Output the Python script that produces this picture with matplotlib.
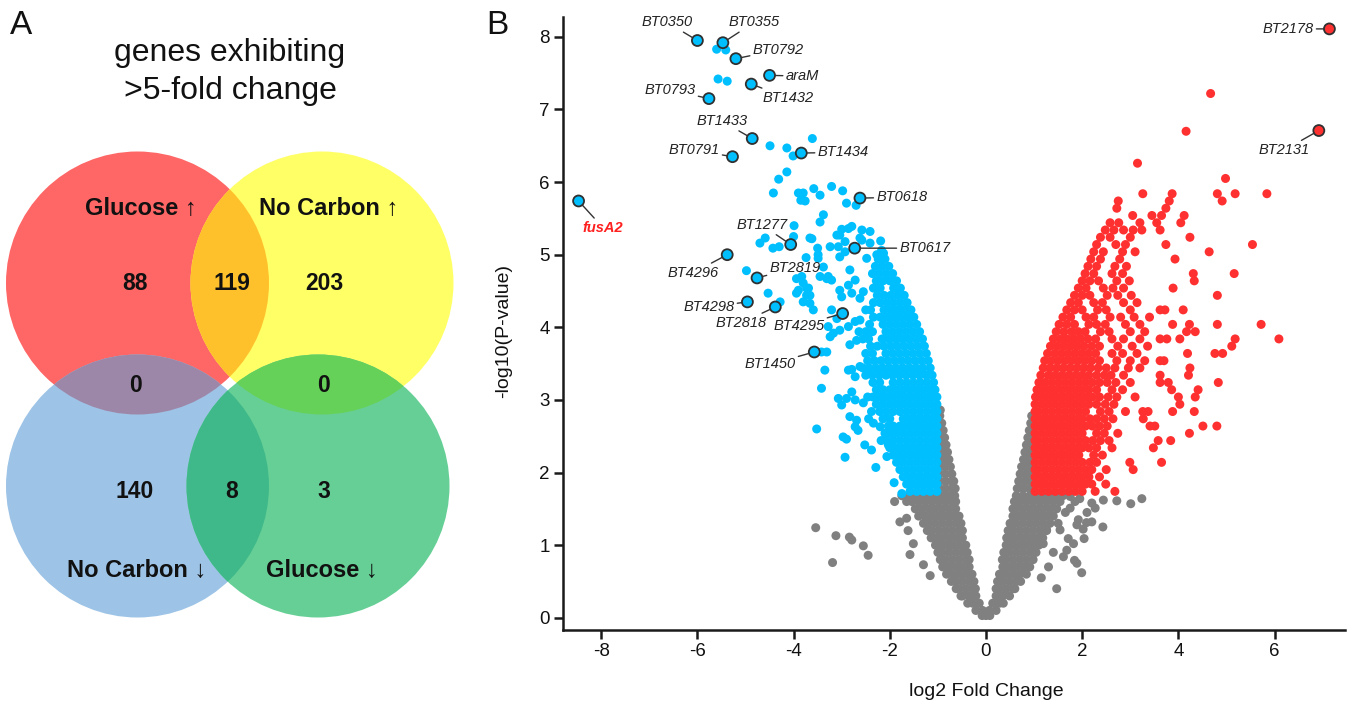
import matplotlib
matplotlib.use('Agg')
import matplotlib.pyplot as plt
from matplotlib.patches import Circle

plt.rcParams['font.family'] = ['Liberation Sans', 'DejaVu Sans']
plt.rcParams['axes.unicode_minus'] = False

# ---------------- Panel A data (Venn) ----------------
venn_title = ['genes exhibiting', '>5-fold change']
venn_labels = ['Glucose \u2191', 'No Carbon \u2191', 'No Carbon \u2193', 'Glucose \u2193']
venn_counts = [88, 119, 203, 0, 0, 140, 8, 3]

# ---------------- Panel B data (volcano) ----------------
x_ticks = [-8, -6, -4, -2, 0, 2, 4, 6]
y_ticks = [0, 1, 2, 3, 4, 5, 6, 7, 8]

# gray (not significant) points, read row by row: (y, [x values])
gray_rows = [
    (0.03, [-0.08, 0.0, 0.08]),
    (0.10, [-0.21, -0.07, 0.07, 0.21]),
    (0.20, [-0.38, -0.28, -0.14, 0.14, 0.28, 0.36]),
    (0.30, [-0.52, -0.49, -0.35, -0.21, 0.21, 0.35, 0.49]),
    (0.40, [-0.62, -0.56, -0.42, -0.28, -0.22, 0.21, 0.28, 0.42, 0.56, 0.6]),
    (0.50, [-0.72, -0.63, -0.49, -0.35, -0.25, 0.24, 0.35, 0.49, 0.63, 0.72]),
    (0.60, [-0.82, -0.7, -0.56, -0.42, -0.29, 0.28, 0.42, 0.56, 0.7, 0.84]),
    (0.70, [-0.9, -0.77, -0.63, -0.49, -0.35, 0.35, 0.49, 0.63, 0.77, 0.91]),
    (0.80, [-0.95, -0.84, -0.7, -0.56, -0.42, -0.35, 0.34, 0.42, 0.56, 0.7, 0.84, 0.98]),
    (0.90, [-1.0, -0.91, -0.77, -0.63, -0.49, -0.39, 0.37, 0.49, 0.63, 0.77, 0.91, 1.04]),
    (1.00, [-1.05, -0.98, -0.84, -0.7, -0.56, -0.42, 0.42, 0.56, 0.7, 0.84, 0.98, 1.1]),
    (1.10, [-1.14, -1.05, -0.91, -0.77, -0.63, -0.49, 0.43, 0.49, 0.63, 0.77, 0.91, 1.05, 1.18]),
    (1.20, [-1.22, -1.12, -0.98, -0.84, -0.7, -0.56, -0.49, 0.46, 0.56, 0.7, 0.84, 0.98, 1.12, 1.26]),
    (1.30, [-1.3, -1.19, -1.05, -0.91, -0.77, -0.63, -0.52, 0.5, 0.63, 0.77, 0.91, 1.05, 1.19, 1.33]),
    (1.40, [-1.4, -1.26, -1.12, -0.98, -0.84, -0.7, -0.56, 0.56, 0.7, 0.84, 0.98, 1.12, 1.26, 1.4]),
    (1.50, [-1.47, -1.33, -1.19, -1.05, -0.91, -0.77, -0.63, 0.56, 0.63, 0.77, 0.91, 1.05, 1.19, 1.33, 1.47]),
    (1.60, [-1.65, -1.54, -1.4, -1.26, -1.12, -0.98, -0.84, -0.7, -0.63, 0.59, 0.7, 0.84, 0.98, 1.12, 1.26, 1.4, 1.54]),
    (1.68, [-1.75, -1.61, -1.47, -1.33, -1.19, -1.05, -0.91, -0.77, -0.65, 0.63, 0.77, 0.91, 1.05, 1.19, 1.33, 1.47, 1.6]),
    (1.78, [-0.97, -0.84, -0.7, -0.64, 0.65, 0.77, 0.9, 0.97]),
    (1.88, [-0.96, -0.84, -0.72, -0.67, 0.68, 0.8, 0.92, 0.97]),
    (1.98, [-0.96, -0.84, -0.71, 0.71, 0.83, 0.95]),
    (2.08, [-0.96, -0.85, -0.74, 0.74, 0.86, 0.96]),
    (2.18, [-0.96, -0.86, -0.77, 0.78, 0.88, 0.96]),
    (2.28, [-0.97, -0.88, -0.8, 0.81, 0.9, 0.97]),
    (2.38, [-0.97, -0.89, -0.83, 0.84, 0.92, 0.97]),
    (2.48, [-0.97, -0.86, 0.87, 0.95]),
    (2.58, [-0.97, -0.89, 0.9, 0.96]),
    (2.68, [-0.97, -0.92, 0.93, 0.97]),
    (2.78, [-0.96, 0.95]),
    (2.86, [-0.95]),
]
gray_extra = [
    (-3.54, 1.24), (-3.12, 1.13), (-2.84, 1.11), (-2.79, 1.07), (-2.55, 0.99), (-2.45, 0.86),
    (-3.19, 0.76), (-1.79, 1.32), (-1.65, 1.37), (-1.51, 1.02), (-1.58, 0.87), (-1.30, 0.73),
    (-1.16, 0.58), (-1.9, 1.6), (-1.62, 1.2),
    (3.24, 1.64), (3.01, 1.57), (2.72, 1.61), (2.44, 1.62), (2.43, 1.25), (2.20, 1.58),
    (2.27, 1.51), (2.09, 1.31), (2.20, 1.32), (2.02, 1.22), (2.04, 1.09), (1.92, 1.35),
    (1.89, 1.28), (1.82, 1.02), (1.71, 1.09), (1.84, 0.79), (1.89, 0.75), (1.99, 0.62),
    (1.47, 0.40), (1.61, 0.84), (1.68, 0.93), (1.54, 1.21), (1.50, 1.30), (1.33, 1.39),
    (1.26, 1.21), (1.19, 1.02), (1.75, 1.51), (1.85, 1.60), (1.95, 1.64), (1.75, 1.67),
    (2.10, 1.45), (1.65, 1.45), (1.40, 0.90), (1.30, 0.70), (1.15, 0.55),
]

# blue (down-regulated, significant) points
blue_rows = [
    (1.74, [-1.02, -1.16, -1.3, -1.44, -1.58]),
    (1.84, [-1.02, -1.09, -1.23, -1.37, -1.51, -1.65]),
    (1.94, [-1.02, -1.16, -1.3, -1.44, -1.58, -1.72]),
    (2.04, [-1.02, -1.09, -1.23, -1.37, -1.51, -1.65, -1.79]),
    (2.14, [-1.02, -1.16, -1.3, -1.44, -1.58, -1.72, -1.86]),
    (2.24, [-1.02, -1.09, -1.23, -1.37, -1.51, -1.65, -1.79, -1.93]),
    (2.34, [-1.02, -1.16, -1.3, -1.44, -1.58, -1.72, -1.86, -2.0]),
    (2.44, [-1.02, -1.09, -1.23, -1.37, -1.51, -1.65, -1.79, -1.93, -2.07, -2.18]),
    (2.54, [-1.02, -1.16, -1.3, -1.44, -1.58, -1.72, -1.86, -2.0, -2.1]),
    (2.64, [-1.02, -1.09, -1.23, -1.37, -1.51, -1.65, -1.79, -1.93, -2.03]),
    (2.74, [-1.02, -1.16, -1.3, -1.44, -1.58, -1.72, -2.0, -2.14, -2.44]),
    (2.84, [-1.02, -1.09, -1.23, -1.37, -1.51, -1.65, -1.79, -1.93, -2.07, -2.21]),
    (2.94, [-1.02, -1.16, -1.3, -1.44, -1.58, -1.72, -1.86, -2.0, -2.14, -2.28]),
    (3.04, [-1.02, -1.09, -1.23, -1.37, -1.51, -1.65, -1.79, -1.93, -2.07, -2.21, -2.35, -2.46]),
    (3.14, [-1.06, -1.16, -1.3, -1.44, -1.58, -1.72, -1.86, -2.0, -2.14, -2.28]),
    (3.24, [-1.09, -1.23, -1.37, -1.51, -1.65, -1.79, -1.93, -2.21, -2.35]),
    (3.34, [-1.12, -1.24, -1.38, -1.52, -1.66, -1.8, -1.94, -2.08, -2.22, -2.36, -2.5]),
    (3.44, [-1.16, -1.31, -1.45, -1.59, -1.73, -1.87, -2.01, -2.15, -2.29, -2.43, -2.56]),
    (3.54, [-1.2, -1.34, -1.48, -1.62, -1.76, -1.9, -2.04, -2.18, -2.32, -2.46]),
    (3.64, [-1.24, -1.38, -1.52, -1.66, -1.8, -1.94, -2.08, -2.36, -2.5]),
    (3.74, [-1.28, -1.42, -1.56, -1.7, -1.84, -1.98, -2.12, -2.26, -2.4]),
    (3.84, [-1.32, -1.46, -1.6, -1.74, -1.88, -2.02, -2.16, -2.44, -2.56]),
    (3.94, [-1.38, -1.52, -1.66, -1.8, -1.94, -2.08, -2.36, -2.5, -2.64]),
    (4.04, [-1.44, -1.58, -1.72, -1.86, -2.0, -2.14, -2.42]),
    (4.14, [-1.5, -1.64, -1.78, -1.92, -2.06, -2.2, -2.34]),
    (4.24, [-1.56, -1.7, -1.84, -1.98, -2.12, -2.4, -2.5]),
    (4.34, [-1.64, -1.78, -1.92, -2.06, -2.2, -2.34]),
    (4.44, [-1.7, -1.84, -1.98, -2.12, -2.26]),
    (4.54, [-1.78, -1.92, -2.2, -2.34]),
    (4.64, [-1.86, -2.0, -2.14, -2.28]),
    (4.74, [-1.94, -2.08, -2.22, -2.36]),
    (4.84, [-2.02, -2.16, -2.3]),
    (4.94, [-2.1, -2.24]),
]
blue_extra = [
    (-5.60, 7.83), (-5.41, 7.82), (-5.57, 7.42), (-5.38, 7.39),
    (-4.49, 6.50), (-4.14, 6.47), (-4.01, 6.36), (-3.61, 6.60),
    (-4.31, 6.04), (-4.14, 6.14), (-4.42, 5.85),
    (-3.90, 5.85), (-3.80, 5.85), (-3.85, 5.75), (-3.76, 5.74),
    (-3.58, 5.91), (-3.45, 5.82), (-3.21, 5.94), (-2.98, 5.88), (-2.90, 5.71), (-2.70, 5.68),
    (-3.38, 5.55), (-3.45, 5.45), (-3.99, 5.40),
    (-4.70, 5.16), (-4.59, 5.23), (-4.43, 5.09), (-4.30, 5.11), (-4.0, 5.25),
    (-3.62, 5.22), (-3.74, 4.96), (-3.50, 5.09), (-3.49, 5.00), (-3.24, 5.11), (-3.66, 5.23),
    (-3.10, 5.27), (-3.00, 5.35), (-2.86, 5.36), (-2.79, 5.39),
    (-2.58, 5.34), (-2.41, 5.32), (-2.58, 5.20), (-2.41, 5.16), (-2.19, 5.19), (-2.17, 5.06),
    (-3.07, 5.11), (-2.93, 5.18), (-3.04, 5.27), (-2.62, 5.23),
    (-2.13, 5.02), (-2.27, 5.0), (-2.48, 4.95),
    (-4.98, 4.78), (-4.53, 4.47), (-4.28, 4.35),
    (-3.94, 4.67), (-3.80, 4.61), (-3.73, 4.54), (-3.90, 4.51), (-3.73, 4.44), (-3.59, 4.24),
    (-3.45, 4.70), (-3.31, 4.67), (-3.21, 4.65),
    (-3.49, 4.95), (-3.38, 4.83), (-3.28, 4.70),
    (-3.04, 4.97), (-2.93, 5.04), (-2.83, 4.79), (-2.72, 4.65), (-2.86, 4.58), (-3.04, 4.51),
    (-3.0, 4.42), (-2.79, 4.47), (-2.62, 4.40), (-2.55, 4.49),
    (-3.83, 4.70), (-3.69, 4.54), (-3.66, 4.44), (-3.94, 4.47), (-3.8, 4.35), (-3.66, 4.33),
    (-3.21, 4.24), (-3.10, 4.12), (-3.28, 4.01), (-3.17, 3.92), (-3.04, 3.96), (-3.24, 3.87),
    (-3.42, 3.66), (-3.31, 3.66), (-3.35, 3.41), (-3.42, 3.16),
    (-2.86, 4.01), (-2.72, 4.08), (-2.62, 4.10), (-2.83, 3.76), (-2.69, 3.82), (-2.86, 3.41),
    (-2.72, 3.32), (-2.62, 3.46), (-2.79, 3.42),
    (-3.52, 2.60), (-3.07, 3.02), (-3.00, 2.93), (-2.90, 3.02), (-2.79, 3.11), (-2.72, 3.00),
    (-2.83, 2.77), (-2.69, 2.72), (-2.66, 2.58), (-2.72, 2.63),
    (-2.97, 2.49), (-2.90, 2.46), (-2.93, 2.21),
    (-2.52, 2.38), (-2.38, 2.31), (-2.29, 2.07), (-2.06, 2.22), (-2.03, 2.38), (-1.91, 1.86),
    (-1.75, 1.71), (-2.55, 2.96), (-2.38, 2.84), (-2.34, 2.68), (-2.20, 2.63),
]

# red (up-regulated, significant) points
red_rows = [
    (1.74, [1.02, 1.16, 1.3, 1.44, 1.58, 1.72, 1.86, 2.0, 2.27, 2.68]),
    (1.84, [1.02, 1.09, 1.23, 1.37, 1.51, 1.65, 1.79, 1.93, 2.07, 2.2, 2.49]),
    (1.94, [1.02, 1.16, 1.3, 1.44, 1.58, 1.72, 1.86, 2.0, 2.14, 2.36]),
    (2.04, [1.02, 1.09, 1.23, 1.37, 1.51, 1.65, 1.79, 1.93, 2.07, 2.2, 2.5, 3.06]),
    (2.14, [1.02, 1.16, 1.3, 1.44, 1.58, 1.72, 1.86, 2.0, 2.16, 2.3, 2.99, 3.65]),
    (2.24, [1.02, 1.09, 1.23, 1.37, 1.51, 1.65, 1.79, 1.93, 2.24, 2.42]),
    (2.34, [1.02, 1.16, 1.3, 1.44, 1.58, 1.72, 1.86, 2.0, 2.14, 2.3, 2.62, 3.48]),
    (2.44, [1.02, 1.09, 1.23, 1.37, 1.51, 1.65, 1.79, 1.93, 2.07, 2.22, 2.38, 2.56, 3.58, 3.84]),
    (2.54, [1.02, 1.16, 1.3, 1.44, 1.58, 1.72, 1.86, 2.0, 2.3, 2.46, 2.74, 4.23]),
    (2.64, [1.02, 1.09, 1.23, 1.37, 1.51, 1.65, 1.79, 1.93, 2.07, 2.21, 2.36, 2.52, 3.41, 3.51, 4.51, 4.8]),
    (2.74, [1.02, 1.16, 1.3, 1.44, 1.58, 1.72, 1.86, 2.0, 2.16, 2.3, 2.46, 2.64, 3.27]),
    (2.84, [1.02, 1.09, 1.23, 1.37, 1.51, 1.65, 1.79, 1.93, 2.07, 2.38, 2.56, 2.9, 3.26, 3.37, 3.88, 4.33]),
    (2.94, [1.02, 1.16, 1.3, 1.44, 1.58, 1.72, 1.86, 2.0, 2.14, 2.3, 2.48, 2.66, 4.03]),
    (3.04, [1.03, 1.09, 1.23, 1.37, 1.51, 1.65, 1.79, 1.93, 2.07, 2.21, 2.36, 2.54, 2.72, 3.1, 4.0, 4.35]),
    (3.14, [1.06, 1.16, 1.3, 1.44, 1.58, 1.72, 1.86, 2.0, 2.14, 2.3, 2.62, 2.84, 3.86, 4.41]),
    (3.24, [1.1, 1.23, 1.37, 1.51, 1.65, 1.79, 1.93, 2.07, 2.21, 2.36, 2.52, 2.7, 3.0, 3.62, 3.79, 4.83]),
    (3.34, [1.14, 1.3, 1.44, 1.58, 1.72, 1.86, 2.0, 2.14, 2.3, 2.46, 2.6, 2.86, 3.62, 4.21]),
    (3.44, [1.19, 1.33, 1.47, 1.61, 1.75, 1.89, 2.03, 2.17, 2.33, 2.5, 2.68, 2.96, 3.2, 4.24]),
    (3.54, [1.22, 1.36, 1.5, 1.64, 1.78, 1.92, 2.06, 2.2, 2.36, 2.72, 3.0, 3.3, 3.62, 3.7]),
    (3.64, [1.28, 1.43, 1.57, 1.71, 1.85, 1.99, 2.13, 2.28, 2.62, 2.84, 3.14, 4.19, 4.76, 4.92]),
    (3.74, [1.34, 1.48, 1.62, 1.76, 1.9, 2.04, 2.2, 2.36, 2.74, 3.04, 3.36, 5.11]),
    (3.84, [1.4, 1.55, 1.69, 1.83, 1.97, 2.12, 2.28, 2.62, 2.86, 3.2, 3.62, 3.76, 4.03, 5.18, 6.09]),
    (3.94, [1.46, 1.62, 1.78, 1.92, 2.06, 2.38, 2.56, 3.0, 3.3, 4.17, 4.35]),
    (4.04, [1.52, 1.68, 1.84, 2.14, 2.3, 2.48, 2.9, 3.2, 3.88, 4.23, 4.81, 5.72]),
    (4.14, [1.6, 1.76, 2.08, 2.24, 2.58, 2.8, 3.08, 3.4]),
    (4.24, [1.68, 1.84, 2.0, 2.32, 2.5, 3.0, 3.62, 3.72, 4.1]),
    (4.34, [1.76, 1.92, 2.24, 2.42, 2.86, 3.14]),
    (4.44, [1.84, 2.0, 2.16, 2.52, 2.74, 3.02, 4.81]),
    (4.54, [1.92, 2.08, 2.44, 2.64, 2.86, 3.89]),
    (4.64, [2.0, 2.16, 2.34, 2.72, 2.98, 4.33]),
    (4.74, [2.06, 2.24, 2.62, 2.84, 4.31, 5.16]),
    (4.84, [2.12, 2.3, 2.68, 2.92]),
    (4.94, [2.18, 2.38, 2.78, 3.93]),
    (5.04, [2.24, 2.44, 2.84, 3.1, 4.64]),
    (5.14, [2.3, 2.7, 2.9, 3.74, 5.54]),
    (5.24, [2.38, 2.58, 3.0, 4.24]),
    (5.34, [2.48, 2.66, 2.86, 3.06, 3.24, 3.62]),
    (5.44, [2.58, 2.76, 3.2, 3.55, 4.05]),
    (5.54, [3.05, 3.45, 3.65, 4.12]),
    (5.64, [2.72, 3.74]),
    (5.74, [2.75, 3.81, 4.91]),
    (5.84, [3.26, 3.87, 4.81, 5.18, 5.84]),
    (6.05, [4.98]),
    (6.26, [3.15]),
    (6.70, [4.16]),
    (7.22, [4.67]),
]

# labelled genes: name, log2 FC, -log10 P, up-regulated?, label centre (x, y)
gene_names = ['BT0350', 'BT0355', 'BT0792', 'araM', 'BT1432', 'BT0793', 'BT1433',
              'BT0791', 'BT1434', 'BT0618', 'fusA2', 'BT1277', 'BT0617', 'BT4296',
              'BT2819', 'BT4298', 'BT2818', 'BT4295', 'BT1450', 'BT2178', 'BT2131']
gene_fc = [-6.00, -5.47, -5.20, -4.50, -4.88, -5.76, -4.86, -5.27, -3.84, -2.62, -8.47,
           -4.06, -2.73, -5.38, -4.76, -4.96, -4.38, -2.98, -3.57, 7.14, 6.92]
gene_p = [7.95, 7.92, 7.70, 7.47, 7.35, 7.15, 6.60, 6.35, 6.40, 5.78, 5.74,
          5.14, 5.09, 5.00, 4.68, 4.35, 4.28, 4.19, 3.66, 8.11, 6.71]
gene_up = [False] * 19 + [True, True]
label_x = [-6.63, -4.82, -4.32, -3.82, -4.12, -6.57, -5.49, -6.07, -2.97, -1.75, -7.96,
           -4.66, -1.27, -6.09, -3.97, -5.76, -5.09, -3.89, -4.49, 6.28, 6.20]
label_y = [8.20, 8.20, 7.82, 7.46, 7.16, 7.27, 6.84, 6.44, 6.41, 5.79, 5.37,
           5.41, 5.09, 4.75, 4.82, 4.28, 4.06, 4.02, 3.49, 8.11, 6.44]

BLUE = '#00BFFF'
RED = '#FF3030'
GRAY = '#808080'
PT = 42

fig = plt.figure(figsize=(13.5, 7.03), dpi=100)

# ---------------- Panel A: Venn ----------------
W, H = 1350.0, 703.0
axv = fig.add_axes([0, 0, 470 / W, 1])
axv.set_xlim(0, 470)
axv.set_ylim(703, 0)
axv.axis('off')

R = 131.5
c_red, c_yel, c_blu, c_grn = (137.5, 283.0), (322.0, 283.0), (137.5, 486.0), (318.0, 486.0)
p_red = Circle(c_red, R, facecolor='#FF6666', edgecolor='none', zorder=1)
p_yel = Circle(c_yel, R, facecolor='#FFFF66', edgecolor='none', zorder=1)
p_blu = Circle(c_blu, R, facecolor='#9DC3E6', edgecolor='none', zorder=1)
p_grn = Circle(c_grn, R, facecolor='#66CF96', edgecolor='none', zorder=1)
for p in (p_red, p_yel, p_blu, p_grn):
    axv.add_patch(p)
for center, base, col in [(c_yel, p_red, '#FFC12B'), (c_blu, p_red, '#9D87A8'),
                          (c_grn, p_yel, '#66D158'), (c_grn, p_blu, '#40B98A')]:
    ov = Circle(center, R, facecolor=col, edgecolor='none', zorder=2)
    axv.add_patch(ov)
    ov.set_clip_path(base)

axv.text(229.5, 61, venn_title[0], ha='center', va='baseline', fontsize=23, color='#111')
axv.text(230, 99.5, venn_title[1], ha='center', va='baseline', fontsize=23, color='#111')

lab_pos = [(141, 208), (329, 208), (137, 570), (322, 570)]
for (lx, ly), t in zip(lab_pos, venn_labels):
    axv.text(lx, ly, t, ha='center', va='center', fontsize=17, fontweight='bold',
             color='#111', zorder=5)
cnt_pos = [(135, 283), (232, 283), (324, 283), (135, 385), (324, 385),
           (135, 492), (232, 492), (324, 492)]
for (cx, cy), n in zip(cnt_pos, venn_counts):
    axv.text(cx, cy, str(n), ha='center', va='center', fontsize=16.5, fontweight='bold',
             color='#111', zorder=5)

fig.text(21.5 / W, 1 - 25.5 / H, 'A', ha='center', va='center', fontsize=24, color='#111')
fig.text(497 / W, 1 - 25.5 / H, 'B', ha='center', va='center', fontsize=24, color='#111')

# ---------------- Panel B: volcano ----------------
ax = fig.add_axes([563 / W, (H - 630) / H, (1345 - 563) / W, (630 - 16.7) / H])
ax.set_xlim(-8.794, 7.464)
ax.set_ylim(-0.169, 8.278)
for s in ('top', 'right'):
    ax.spines[s].set_visible(False)
for s in ('left', 'bottom'):
    ax.spines[s].set_linewidth(1.8)
    ax.spines[s].set_color('#1a1a1a')
ax.set_xticks(x_ticks)
ax.set_yticks(y_ticks)
ax.set_xticklabels([str(v) for v in x_ticks])
ax.set_yticklabels([str(v) for v in y_ticks])
ax.tick_params(direction='out', length=6.5, width=1.8, color='#1a1a1a',
               labelsize=13.5, pad=3, labelcolor='#111')

gx = [x for y, xs in gray_rows for x in xs] + [p[0] for p in gray_extra]
gy = [y for y, xs in gray_rows for x in xs] + [p[1] for p in gray_extra]
bx = [x for y, xs in blue_rows for x in xs] + [p[0] for p in blue_extra]
by = [y for y, xs in blue_rows for x in xs] + [p[1] for p in blue_extra]
rx = [x for y, xs in red_rows for x in xs]
ry = [y for y, xs in red_rows for x in xs]

ax.scatter(gx, gy, s=PT, c=GRAY, edgecolors='none', zorder=2)
ax.scatter(bx, by, s=PT, c=BLUE, edgecolors='none', zorder=3)
ax.scatter(rx, ry, s=PT, c=RED, edgecolors='none', zorder=3)

hcol = [RED if u else BLUE for u in gene_up]
ax.scatter(gene_fc, gene_p, s=62, c=hcol, edgecolors='#303030', linewidths=1.3, zorder=6)

for name, gxv, gyv, tx, ty in zip(gene_names, gene_fc, gene_p, label_x, label_y):
    if name == 'fusA2':
        kw = dict(color='#FF2020', fontweight='bold')
    else:
        kw = dict(color='#222')
    ax.annotate(name, xy=(gxv, gyv), xytext=(tx, ty), textcoords='data',
                ha='center', va='center', fontsize=10.5, style='italic',
                arrowprops=dict(arrowstyle='-', color='#333', lw=1.0, shrinkA=0, shrinkB=4),
                zorder=7, **kw)

fig.text(986 / W, 1 - 691 / H, 'log2 Fold Change', ha='center', va='center',
         fontsize=14, color='#111')
fig.text(504 / W, 1 - 331 / H, '-log10(P-value)', ha='center', va='center',
         rotation=90, fontsize=14, color='#111')

fig.savefig('out.png', dpi=100)
